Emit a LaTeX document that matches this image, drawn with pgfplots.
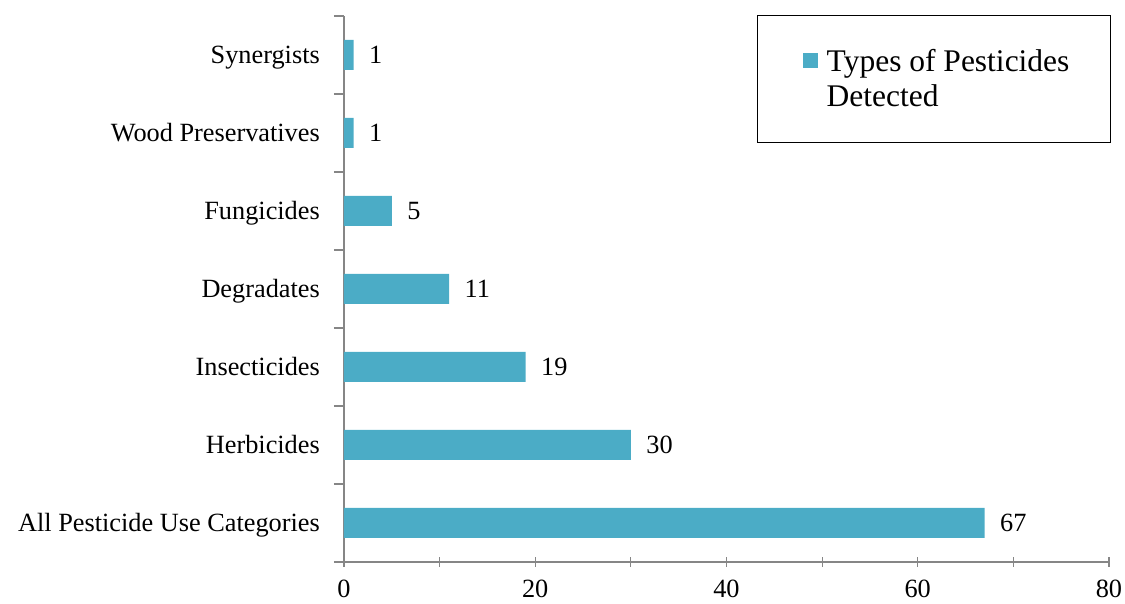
\documentclass[border=0pt]{standalone}
\usepackage{fontspec}
\setmainfont{Liberation Serif}
\usepackage{pgfplots}
\pgfplotsset{compat=1.18}
\definecolor{barblue}{HTML}{4BACC6}
\definecolor{axisgray}{HTML}{868686}

\begin{document}
\begin{tikzpicture}
\begin{axis}[
  scale only axis,
  width=765pt, height=546pt,
  xmin=0, xmax=80, ymin=-0.5, ymax=6.5,
  axis x line*=bottom, axis y line*=left,
  axis line style={axisgray, line width=1.2pt},
  xbar, bar width=30pt,
  xtick={0,10,...,80},
  xticklabels={0,,20,,40,,60,,80},
  ytick={-0.5,0.5,...,6.5},
  yticklabels={},
  extra y ticks={0,1,2,3,4,5,6},
  extra y tick labels={All Pesticide Use Categories,Herbicides,Insecticides,Degradates,Fungicides,Wood Preservatives,Synergists},
  extra y tick style={tick style={draw=none}},
  major tick length=10pt,
  xtick align=center, ytick align=outside,
  tick style={axisgray, line width=1.2pt},
  /pgf/number format/assume math mode=true,
  tick label style={font=\fontsize{26.3}{28}\selectfont, black},
  xticklabel style={inner sep=0pt, yshift=-13pt},
  yticklabel style={inner sep=0pt, anchor=base east, xshift=-14pt, yshift=-8.7pt},
  nodes near coords,
  nodes near coords align={horizontal},
  every node near coord/.append style={font=\fontsize{26.3}{28}\selectfont, black, xshift=12pt},
  legend style={at={(rel axis cs:1.0026,1.0018)}, anchor=north east,
    draw=black, line width=1pt, inner xsep=39pt, inner ysep=32pt,
    font=\fontsize{31.5}{35}\selectfont, cells={anchor=west, align=left}},
  legend image code/.code={
    \path (0pt,18pt);
    \fill[barblue] (6pt,11pt) rectangle (21pt,26pt);
    \path (28pt,18pt);},
]
\addplot[fill=barblue, draw=none] coordinates {
  (67,0) (30,1) (19,2) (11,3) (5,4) (1,5) (1,6)
};
\addlegendentry{Types of Pesticides\\Detected}
\end{axis}
\pgfresetboundingbox
\path[use as bounding box] (-344pt,-42pt) rectangle (781pt,562pt);
\end{tikzpicture}
\end{document}
